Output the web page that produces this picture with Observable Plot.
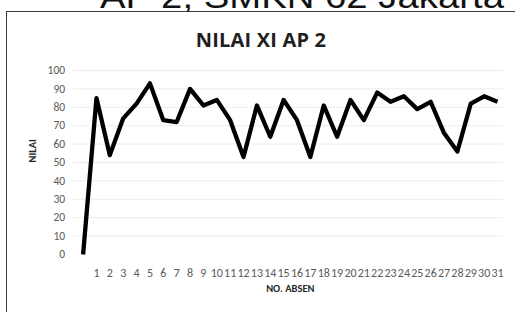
<!DOCTYPE html>
<html>
<head>
<meta charset="utf-8">
<script src="https://cdn.jsdelivr.net/npm/d3@7"></script>
<script src="https://cdn.jsdelivr.net/npm/@observablehq/plot@0.6"></script>
<style>
  html, body { margin: 0; padding: 0; background: #fff; }
  #wrap { position: relative; width: 515px; height: 312px; overflow: hidden; background: #fff; font-family: Carlito, "Liberation Sans", "DejaVu Sans", sans-serif; }
  #heading { position: absolute; left: 0; top: 0; }
  #frame { position: absolute; left: 6px; top: 11px; width: 520px; height: 320px; border: 1.5px solid #3a3a3a; box-sizing: border-box; }
  #title { position: absolute; left: 0; width: 522px; top: 26px; text-align: center; font-weight: bold; font-size: 20px; color: #1f1f1f; font-family: "Open Sans", "Liberation Sans", sans-serif; letter-spacing: 0.2px; }
  #chart { position: absolute; left: 0; top: 0; }
</style>
</head>
<body>
<div id="wrap">
  <svg id="heading" width="515" height="12"><text x="302" y="8" text-anchor="middle" font-family="Liberation Sans, sans-serif" font-size="33" fill="#111" textLength="404" lengthAdjust="spacingAndGlyphs">AP 2, SMKN 62 Jakarta</text></svg>
  <div id="frame"></div>
  <div id="title">NILAI XI AP 2</div>
  <div id="chart"></div>
</div>
<script>
// Category positions (0 has a blank label), student numbers 1..31
const absen = ["", "1","2","3","4","5","6","7","8","9","10","11","12","13","14","15","16","17","18","19","20","21","22","23","24","25","26","27","28","29","30","31"];
const nilai = [0, 85, 54, 74, 82, 93, 73, 72, 90, 81, 84, 73, 53, 81, 64, 84, 73, 53, 81, 64, 84, 73, 88, 83, 86, 79, 83, 66, 56, 82, 86, 83];
const yTicks = [0, 10, 20, 30, 40, 50, 60, 70, 80, 90, 100];

const data = nilai.map((v, i) => ({i, label: absen[i], v}));

const chart = Plot.plot({
  width: 515,
  height: 312,
  marginLeft: 82.6,
  marginRight: 18,
  marginTop: 70,
  marginBottom: 58,
  style: {background: "transparent", fontFamily: "Carlito, 'Liberation Sans Narrow', 'Liberation Sans', sans-serif", color: "#595959"},
  x: {type: "linear", domain: [0, 31]},
  y: {domain: [0, 100]},
  marks: [
    Plot.ruleY(yTicks.filter(d => d > 0), {stroke: "#ececec", strokeWidth: 1, insetLeft: -10, insetRight: -6}),
    Plot.axisY({ticks: yTicks, tickSize: 0, tickPadding: 18, fontSize: 11.5, fill: "#595959", label: null}),
    Plot.axisX({ticks: data.filter(d => d.label !== "").map(d => d.i), tickFormat: i => absen[i], tickSize: 0, tickPadding: 14, fontSize: 12, fill: "#595959", label: null, fontFamily: "'Liberation Sans Narrow', Carlito, sans-serif"}),
    Plot.line(data, {x: "i", y: "v", stroke: "#000", strokeWidth: 4.3, strokeLinejoin: "round", strokeLinecap: "butt"}),
    Plot.text(["NILAI"], {frameAnchor: "left", dx: -50, rotate: -90, fontWeight: "bold", fontSize: 10.5, fill: "#262626"}),
    Plot.text(["NO. ABSEN"], {frameAnchor: "bottom", dy: 37, fontWeight: "bold", fontSize: 10.5, fill: "#262626"})
  ]
});
document.getElementById("chart").appendChild(chart);
</script>
</body>
</html>
